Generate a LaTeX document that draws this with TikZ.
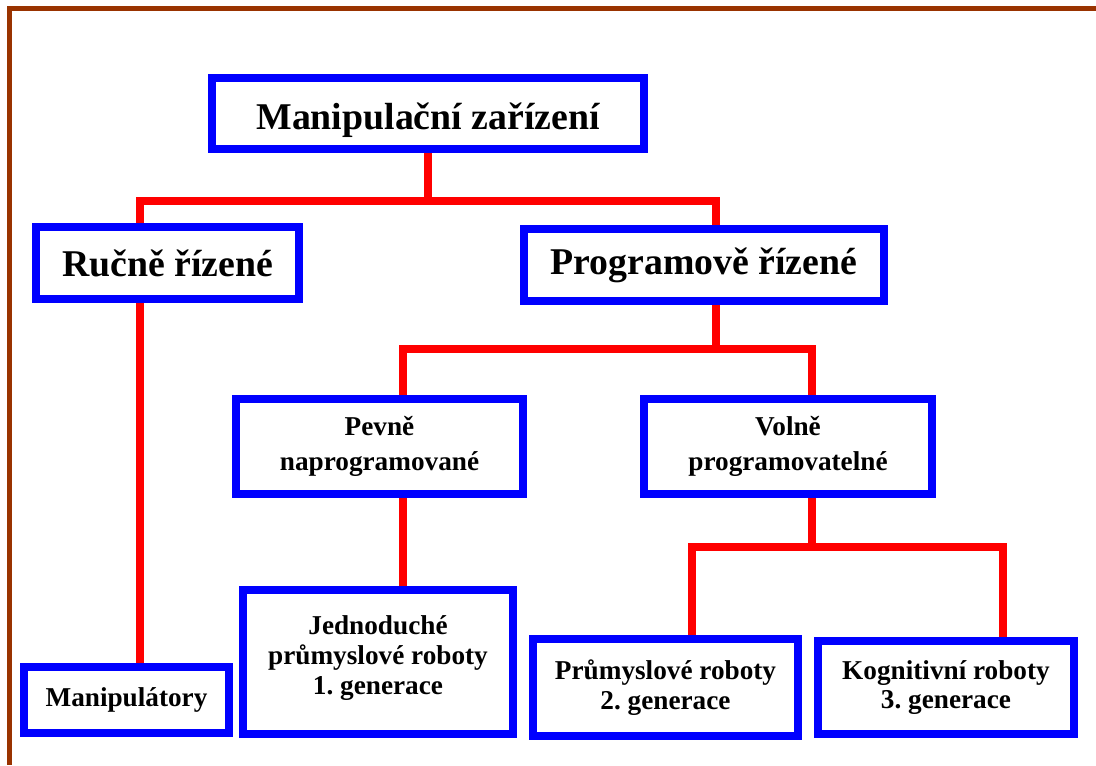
\documentclass[tikz,border=0pt]{standalone}
\usepackage{fontspec}
\setmainfont{Liberation Serif}
\usepackage{tikz}
\frenchspacing

\definecolor{frameBrown}{RGB}{153,51,0}
\definecolor{boxBlue}{RGB}{0,0,255}
\definecolor{linkRed}{RGB}{255,0,0}

\begin{document}
\begin{tikzpicture}[x=0.02cm,y=-0.02cm,%%
  frameStyle/.style={-,draw=frameBrown,line width=0.1cm},%%
  boxStyle/.style={draw=boxBlue,fill=white,line width=0.16cm,inner sep=0pt,align=center},%%
  boxSize/.style 2 args={minimum width=#1*0.02cm,minimum height=#2*0.02cm},%%
  bigStyle/.style={boxStyle,font={\bfseries\fontsize{21.5}{26}\selectfont}},%%
  wideStyle/.style={boxStyle,font={\bfseries\fontsize{15.5}{20}\selectfont}},%%
  smallStyle/.style={boxStyle,font={\bfseries\fontsize{15.5}{17}\selectfont}},%%
  linkStyle/.style={-,draw=linkRed,line width=0.16cm}%%
]
%%
\useasboundingbox (0,0) rectangle (1096,765);
%%
%% Frame along the top and the left edge.
\draw[frameStyle] (1096,8.5) -- (9.5,8.5) -- (9.5,765);
%%
%% Boxes of the tree.
\node[bigStyle,boxSize={432}{71},text height=18pt,text depth=0pt] (device) at (428,113.5) {Manipulační zařízení};
\node[bigStyle,boxSize={263}{72}] (manual) at (167.5,263) {Ručně řízené};
\node[bigStyle,boxSize={360}{72}] (program) at (704,265) {Programově řízené};
\node[wideStyle,boxSize={287}{95}] (fixed) at (379.5,446.5) {Pevně\\naprogramované};
\node[wideStyle,boxSize={288}{95}] (free) at (788,446.5) {Volně\\programovatelné};
\node[smallStyle,boxSize={205}{66}] (tools) at (126.5,700) {Manipulátory};
\node[smallStyle,boxSize={270}{144},text depth=8pt] (simple) at (378,662) {Jednoduché\\průmyslové roboty\\1. generace};
\node[smallStyle,boxSize={265}{97}] (second) at (665.5,687.5) {Průmyslové roboty\\2. generace};
\node[smallStyle,boxSize={256}{93}] (third) at (946,687.5) {Kognitivní roboty\\3. generace};
%%
%% Where the red lines run.
\coordinate (manualX) at (140,0);
\coordinate (programX) at (716,0);
\coordinate (fixedX) at (403,0);
\coordinate (freeX) at (812,0);
\coordinate (secondX) at (692,0);
\coordinate (thirdX) at (1003,0);
\coordinate (busTop) at (428,201);
\coordinate (busProgram) at (716,349);
\coordinate (busFree) at (812,547);
%%
%% First level.
\draw[linkStyle] (device.south) -- (busTop);
\draw[linkStyle] (manual.north -| manualX) |- (busTop) -| (program.north -| programX);
\draw[linkStyle] (manual.south -| manualX) -- (tools.north -| manualX);
%% Second level.
\draw[linkStyle] (program.south -| programX) -- (busProgram);
\draw[linkStyle] (fixed.north -| fixedX) |- (busProgram) -| (free.north -| freeX);
\draw[linkStyle] (fixed.south -| fixedX) -- (simple.north -| fixedX);
%% Third level.
\draw[linkStyle] (free.south -| freeX) -- (busFree);
\draw[linkStyle] (second.north -| secondX) |- (busFree) -| (third.north -| thirdX);
\end{tikzpicture}
\end{document}
